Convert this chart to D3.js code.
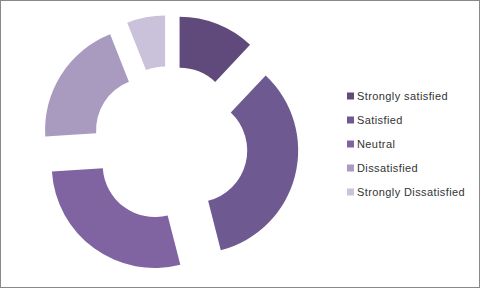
<!DOCTYPE html>
<html>
<head>
<meta charset="utf-8">
<script src="https://cdn.jsdelivr.net/npm/d3@7"></script>
<style>
  body { margin: 0; background: #fff; }
  svg { display: block; }
</style>
</head>
<body>
<svg id="chart" width="480" height="288"></svg>
<script>
// survey answers
const categories = ['Strongly satisfied', 'Satisfied', 'Neutral', 'Dissatisfied', 'Strongly Dissatisfied']
const values = [12, 34, 28, 20, 6]
const colors = ['#5f4a7b', '#6f5991', '#8064a2', '#a89bbf', '#cac2da']

const width = 480, height = 288
const cx = 170, cy = 144
const outerR = 103, innerR = 52
const explode = 26

const svg = d3.select('#chart')

// frame
svg.append('rect')
  .attr('x', 0.5).attr('y', 0.5)
  .attr('width', width - 1).attr('height', height - 1)
  .attr('fill', '#fff')
  .attr('stroke', '#888')

const pie = d3.pie().sort(null).value(d => d)
const arc = d3.arc().innerRadius(innerR).outerRadius(outerR)

const g = svg.append('g').attr('transform', `translate(${cx},${cy})`)

g.selectAll('path')
  .data(pie(values))
  .join('path')
  .attr('d', arc)
  .attr('fill', (d, i) => colors[i])
  .attr('transform', d => {
    let a = (d.startAngle + d.endAngle) / 2
    return `translate(${explode * Math.sin(a)},${-explode * Math.cos(a)})`
  })

// legend
const legendY = d3.scalePoint().domain(categories).range([96, 192])

const legend = svg.append('g')
  .selectAll('g')
  .data(categories)
  .join('g')
  .attr('transform', d => `translate(347,${legendY(d)})`)

legend.append('rect')
  .attr('x', 0).attr('y', -3.5)
  .attr('width', 7).attr('height', 7)
  .attr('fill', (d, i) => colors[i])

legend.append('text')
  .attr('x', 10).attr('y', 0)
  .attr('dy', '0.35em')
  .attr('font-family', 'Liberation Sans, Arial, sans-serif')
  .attr('font-size', 11)
  .attr('letter-spacing', 0.4)
  .attr('fill', '#333')
  .text(d => d)
</script>
</body>
</html>
